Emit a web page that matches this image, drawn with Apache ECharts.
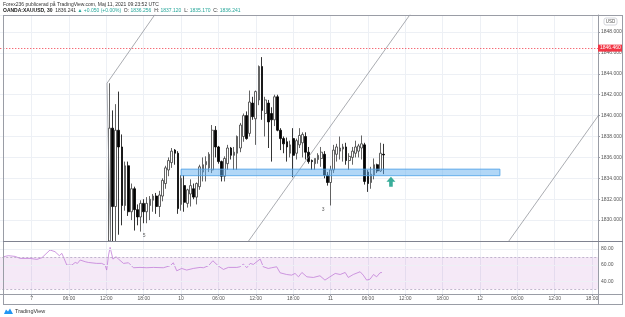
<!DOCTYPE html>
<html><head><meta charset="utf-8">
<script src="https://cdn.jsdelivr.net/npm/echarts@6/dist/echarts.min.js"></script>
<style>html,body{margin:0;padding:0;background:#fff}#c{width:625px;height:317px}</style>
</head><body><div id="c"></div>
<script>
// ---- data (bar index: 0 = May 10 00:00, 30-minute bars) ----
const barIndex = [-23,-22,-21,-20,-19,-18,-17,-16,-15,-14,-13,-12,-11,-10,-9,-8,-7,-6,-5,-4,-3,-2,-1,
  0,1,2,3,4,5,6,7,8,9,10,11,12,13,14,15,16,17,18,19,20,21,22,23,24,25,26,27,28,29,30,31,32,33,34,35,36,37,38,39,40,
  41,42,43,44,45,46,47,48,49,50,51,52,53,54,55,56,57,58,59,60,61,62,63,64,65];
const openP = [1819.5,1838.8,1831.3,1838.6,1837.0,1831.4,1835.2,1830.8,1833.0,1831.0,1830.3,1831.6,1830.8,1831.4,1831.9,1832.3,1831.3,1832.3,1833.5,1834.8,1835.5,1836.7,1836.4,
  1831.5,1833.3,1831.6,1832.5,1833.0,1832.2,1833.2,1834.6,1835.3,1835.0,1834.8,1838.6,1837.0,1835.6,1834.2,1835.4,1836.9,1836.2,1836.4,1836.9,1838.0,1840.0,1838.3,1841.2,1839.7,1841.5,1844.7,1840.2,1841.2,1840.2,1839.6,1841.8,1838.6,1837.8,1837.5,1836.4,1837.8,1836.4,1837.2,1837.4,1838.0,
  1836.5,1835.7,1835.4,1835.8,1835.9,1836.3,1834.3,1833.6,1834.8,1836.3,1836.6,1836.8,1837.0,1835.7,1836.0,1836.4,1836.6,1836.9,1837.2,1834.6,1833.6,1834.3,1835.3,1834.7,1836.3];
const highP = [1843.1,1840.5,1841.1,1842.3,1838.2,1835.6,1835.6,1833.5,1833.2,1831.5,1831.9,1832.0,1832.2,1832.3,1832.5,1832.6,1832.8,1834.0,1835.2,1836.0,1836.9,1836.8,1836.6,
  1834.3,1834.3,1833.0,1833.9,1833.5,1833.6,1835.3,1836.0,1836.1,1836.5,1839.1,1839.0,1837.1,1835.7,1836.1,1837.2,1837.0,1837.0,1838.1,1839.3,1840.2,1840.4,1842.4,1841.8,1842.4,1844.8,1845.6,1841.8,1841.5,1840.8,1842.0,1842.0,1838.8,1838.0,1837.9,1837.6,1838.8,1837.8,1838.8,1838.4,1838.4,
  1837.0,1835.8,1835.9,1836.4,1837.0,1836.6,1834.6,1835.2,1837.2,1837.3,1838.0,1837.3,1837.4,1836.4,1837.0,1837.6,1837.3,1838.1,1837.4,1834.8,1835.1,1835.9,1835.4,1837.4,1837.3];
const lowP = [1818.5,1826.0,1827.0,1828.6,1829.5,1830.9,1830.4,1830.0,1829.0,1829.5,1828.9,1829.7,1829.7,1830.0,1830.8,1830.6,1830.3,1831.8,1833.0,1834.2,1835.0,1835.3,1830.6,
  1830.9,1830.8,1831.2,1831.3,1832.0,1831.5,1832.9,1833.7,1833.7,1834.6,1834.5,1836.0,1835.4,1833.7,1833.7,1834.8,1835.8,1834.8,1834.8,1836.5,1837.5,1837.7,1838.0,1839.6,1837.2,1841.0,1839.6,1838.0,1836.9,1835.6,1839.0,1838.5,1836.7,1836.4,1835.6,1836.0,1834.1,1835.8,1836.9,1836.0,1835.8,
  1835.4,1834.8,1834.8,1835.4,1835.1,1834.0,1833.3,1831.4,1834.5,1835.6,1835.8,1835.6,1835.3,1834.8,1835.3,1836.0,1836.0,1835.8,1833.4,1832.7,1833.0,1833.9,1834.5,1834.6,1834.4];
const closeP = [1838.8,1831.3,1838.6,1837.0,1831.4,1835.2,1830.8,1833.0,1831.0,1830.3,1831.6,1830.8,1831.6,1832.0,1832.3,1831.3,1832.4,1833.8,1835.0,1835.7,1836.6,1836.4,1831.1,
  1834.0,1831.7,1832.9,1833.3,1832.2,1833.5,1835.1,1835.3,1835.6,1836.3,1838.6,1837.0,1835.6,1834.2,1835.9,1836.9,1836.2,1836.5,1838.0,1839.1,1840.0,1837.8,1841.3,1839.9,1842.3,1844.7,1840.5,1841.5,1839.4,1839.6,1841.8,1838.6,1837.8,1837.3,1837.0,1837.2,1836.2,1837.6,1838.1,1838.2,1836.5,
  1835.6,1835.6,1835.9,1836.2,1836.5,1834.3,1833.6,1834.8,1836.7,1837.0,1836.9,1837.0,1835.7,1836.1,1836.6,1837.0,1837.1,1837.3,1833.7,1833.5,1834.4,1835.3,1834.7,1836.4,1836.241];

const rsiIndex = [-57.1,-55.5,-53.3,-51.7,-48.5,-46.3,-44.7,-42.1,-40.5,-39.1,-38.3,-37.6,-36.7,-35.1,-34.0,-33.3,-32.4,-30.8,-29.8,-27.1,-25.5,-24.4,-23.9,-23.3,-22.8,-21.9,-20.9,-20.1,-18.5,-16.9,-15.3,-13.2,-11.0,-8.9,-5.7,-3.5,-2.5,-1.4,0.2,1.8,3.9,6.1,7.2,8.8,10.2,12.0,13.6,15.2,17.9,18.9,20.0,21.1,22.2,23.2,24.3,25.4,26.4,28.0,29.1,30.7,31.8,33.9,35.5,36.6,37.7,38.8,40.4,42.5,44.6,46.2,47.8,49.5,51.1,52.7,53.7,55.3,57.5,58.5,59.6,60.7,61.8,62.8,63.9,64.5];
const rsiValue = [70.4,71.7,70.8,68.3,68.3,67.1,69.2,78.8,76.7,71.7,74.6,68.3,60,60,63.3,62.1,66.3,64.2,63.3,62.1,62.1,60,53.8,72.5,82.1,67.5,70.4,67.5,62.1,62.9,56.7,57.1,56.7,57.1,56.7,59.2,62.9,52.9,55.8,53.8,55.8,57.1,56.7,59.2,65.4,58.8,54.6,57.1,57.1,57.9,61.3,56.7,62.1,60.8,64.2,67.5,57.9,55.8,56.7,57.9,50.4,48.3,47.5,49.6,45.4,50.8,45.4,44.6,46.7,41.3,45.4,49.6,48.3,50.8,44.6,48.3,51.7,47.5,41.3,42.5,48.3,45.4,50.4,50.8];
const rsiUpper = 70, rsiLower = 30;
const rsiLabelValues = [40, 60, 80];

const timeTickIndex = [-48,-36,-24,-12,0,12,24,36,48,60,72,84,96,108,120,132];
const timeTickLabels = ['7','06:00','12:00','18:00','10','06:00','12:00','18:00','11','06:00','12:00','18:00','12','06:00','12:00','18:00'];

const resistancePrice = 1846.46;
const lastPrice = 1836.241;
const lastBarCountdown = '06:09';
const supportZone = {x0: 0, x1: 102.4, top: 1834.88, bottom: 1834.25};
const channelLineA = [[-23.8, 1843.1], [-6.7, 1850.4]];
const channelLink = [[-23.8, 1843.1], [-22.6, 1827.1]];
const channelLineB = [[20.0, 1827.3], [76.0, 1850.7]];
const channelLineC = [[100.0, 1825.8], [140.0, 1842.5]];
const waveLabels = [[-11.9, 1828.55, '5'], [45.6, 1831.05, '3']];
const arrowMark = [[67.4, 1833.68]];

const headerLine1 = 'Forex236 publicerad på TradingView.com, Maj 11, 2021 09:23:52 UTC';
const symbolText = 'OANDA:XAUUSD, 30';
const quoteText = ['1836.241', '▲ +0.050 (+0.00%)', '1836.256', '1837.120', '1835.170', '1836.241'];

// ---- chart ----
const FONT = 'Liberation Sans';
const PRICE_MIN = 1828, PRICE_MAX = 1849.63;
const clampP = v => Math.min(PRICE_MAX, Math.max(PRICE_MIN, v));
// values beyond the visible price range are clamped to the pane edge (visual clipping only)
const candleData = barIndex.map((x, i) => [x, clampP(openP[i]), clampP(closeP[i]), clampP(lowP[i]), clampP(highP[i])]);
const rsiData = rsiIndex.map((x, i) => [x, rsiValue[i]]);
const gridColor = '#edf0f5';
const frameColor = '#9a9da6';

function timeLabel(v) {
  const r = Math.round(v);
  if (Math.abs(v - r) > 1e-6) return '';
  const j = timeTickIndex.indexOf(r);
  return j >= 0 ? timeTickLabels[j] : '';
}
function trend(data) {
  return {type: 'line', data: data, xAxisIndex: 0, yAxisIndex: 0, showSymbol: false, silent: true,
    lineStyle: {color: '#85888f', width: 0.7}, z: 4, clip: true, animation: false};
}

const chart = echarts.init(document.getElementById('c'), null, {renderer: 'canvas'});
chart.setOption({
  animation: false,
  backgroundColor: '#ffffff',
  textStyle: {fontFamily: FONT},
  grid: [
    {left: -5.72, top: 15, width: 603.72, height: 226, containLabel: false, outerBoundsMode: 'none'},
    {left: -5.72, top: 241, width: 603.72, height: 53, containLabel: false, outerBoundsMode: 'none'}
  ],
  xAxis: [
    {type: 'value', gridIndex: 0, min: -60, max: 133.9, interval: 12,
      axisLine: {show: false, onZero: false}, axisTick: {show: false}, axisLabel: {show: false},
      splitLine: {show: true, lineStyle: {color: gridColor, width: 1}}},
    {type: 'value', gridIndex: 1, min: -60, max: 133.9, interval: 12,
      axisLine: {show: true, onZero: false, lineStyle: {color: frameColor, width: 1}},
      axisTick: {show: true, length: 2, lineStyle: {color: frameColor}},
      axisLabel: {show: true, fontSize: 5, color: '#555', margin: 2, formatter: timeLabel, fontFamily: FONT},
      splitLine: {show: true, lineStyle: {color: gridColor, width: 1}}}
  ],
  yAxis: [
    {type: 'value', gridIndex: 0, position: 'right', min: PRICE_MIN, max: PRICE_MAX, interval: 2,
      axisLine: {show: true, onZero: false, lineStyle: {color: frameColor, width: 1}},
      axisTick: {show: true, length: 2, lineStyle: {color: frameColor}},
      axisLabel: {fontSize: 5, color: '#555', margin: 3, showMinLabel: false, showMaxLabel: false,
        formatter: v => v.toFixed(3), fontFamily: FONT},
      splitLine: {show: true, lineStyle: {color: gridColor, width: 1}}},
    {type: 'value', gridIndex: 1, position: 'right', min: 24, max: 90, interval: 4,
      axisLine: {show: true, onZero: false, lineStyle: {color: frameColor, width: 1}},
      axisTick: {show: false},
      axisLabel: {fontSize: 5, color: '#555', margin: 3, showMinLabel: false, showMaxLabel: false, fontFamily: FONT,
        formatter: v => (rsiLabelValues.indexOf(Math.round(v)) >= 0 && Math.abs(v - Math.round(v)) < 1e-6) ? v.toFixed(2) : ''},
      splitLine: {show: false}}
  ],
  series: [
    {type: 'candlestick', xAxisIndex: 0, yAxisIndex: 0, data: candleData, barWidth: 2.2, z: 3,
      itemStyle: {color: '#ffffff', color0: '#000000', borderColor: '#3c3c3c', borderColor0: '#000000', borderWidth: 0.8},
      markArea: {silent: true, z: 5,
        itemStyle: {color: 'rgba(100,176,240,0.5)', borderColor: '#4aa0e6', borderWidth: 0.8},
        data: [[{xAxis: supportZone.x0, yAxis: supportZone.top}, {xAxis: supportZone.x1, yAxis: supportZone.bottom}]]},
      markLine: {silent: true, symbol: 'none', animation: false,
        data: [
          {yAxis: resistancePrice, lineStyle: {color: '#f23645', type: [1, 2], width: 1},
            label: {show: true, position: 'end', distance: 0, formatter: resistancePrice.toFixed(3), color: '#fff',
              backgroundColor: '#f23645', fontSize: 5, padding: [1, 2, 1, 2], fontFamily: FONT}},
          {yAxis: lastPrice, lineStyle: {opacity: 0},
            label: {show: true, position: 'end', distance: 3, formatter: lastPrice.toFixed(3) + '\n' + lastBarCountdown,
              color: '#333', fontSize: 5, lineHeight: 6, fontFamily: FONT}}
        ]}},
    trend(channelLineA), trend(channelLink), trend(channelLineB), trend(channelLineC),
    {type: 'scatter', xAxisIndex: 0, yAxisIndex: 0, data: waveLabels, symbolSize: 1, silent: true, z: 6,
      itemStyle: {color: 'rgba(0,0,0,0)'},
      label: {show: true, position: 'inside', formatter: p => p.value[2], fontSize: 5, color: '#333', fontFamily: FONT}},
    {type: 'scatter', xAxisIndex: 0, yAxisIndex: 0, data: arrowMark, silent: true, z: 6,
      symbol: 'path://M5,0 L10,5 L7,5 L7,10 L3,10 L3,5 L0,5 Z', symbolSize: [9, 10],
      itemStyle: {color: '#089981'}},
    {type: 'line', xAxisIndex: 1, yAxisIndex: 1, data: rsiData, showSymbol: false, silent: true, z: 4,
      lineStyle: {color: '#c27fd8', width: 0.8},
      markArea: {silent: true, itemStyle: {color: 'rgba(156,39,176,0.1)'}, data: [[{yAxis: rsiLower}, {yAxis: rsiUpper}]]},
      markLine: {silent: true, symbol: 'none', label: {show: false},
        data: [
          {yAxis: rsiUpper, lineStyle: {color: '#b3a6c2', type: [2, 2], width: 0.8}},
          {yAxis: rsiLower, lineStyle: {color: '#b3a6c2', type: [2, 2], width: 0.8}},
          {yAxis: rsiLabelValues[0], lineStyle: {color: gridColor, type: 'solid', width: 1}},
          {yAxis: rsiLabelValues[1], lineStyle: {color: gridColor, type: 'solid', width: 1}},
          {yAxis: rsiLabelValues[2], lineStyle: {color: gridColor, type: 'solid', width: 1}}
        ]}}
  ],
  graphic: [
    {type: 'line', shape: {x1: 3, y1: 15.5, x2: 623, y2: 15.5}, style: {stroke: frameColor, lineWidth: 1}, silent: true, z: 10},
    {type: 'line', shape: {x1: 3.5, y1: 15, x2: 3.5, y2: 305}, style: {stroke: frameColor, lineWidth: 1}, silent: true, z: 10},
    {type: 'line', shape: {x1: 622.5, y1: 15, x2: 622.5, y2: 305}, style: {stroke: frameColor, lineWidth: 1}, silent: true, z: 10},
    {type: 'line', shape: {x1: 3, y1: 241.5, x2: 623, y2: 241.5}, style: {stroke: '#808390', lineWidth: 1}, silent: true, z: 10},
    {type: 'line', shape: {x1: 598, y1: 294.5, x2: 623, y2: 294.5}, style: {stroke: frameColor, lineWidth: 1}, silent: true, z: 10},
    {type: 'line', shape: {x1: 3, y1: 304.5, x2: 623, y2: 304.5}, style: {stroke: frameColor, lineWidth: 1}, silent: true, z: 10},
    {type: 'line', shape: {x1: 598.5, y1: 294, x2: 598.5, y2: 305}, style: {stroke: frameColor, lineWidth: 1}, silent: true, z: 10},
    {type: 'rect', shape: {x: 604, y: 18, width: 13, height: 7, r: 2}, style: {fill: '#fff', stroke: '#c9ccd3', lineWidth: 0.8}, silent: true, z: 10},
    {type: 'text', x: 610.5, y: 21.7, style: {text: 'USD', fontSize: 4.5, fill: '#555', align: 'center', verticalAlign: 'middle', fontFamily: FONT}, silent: true, z: 11},
    {type: 'text', x: 3, y: 4.5, style: {text: headerLine1, fontSize: 5, fill: '#333', verticalAlign: 'middle', fontFamily: FONT}, silent: true, z: 11},
    {type: 'text', x: 3, y: 10.5, silent: true, z: 11, style: {
      text: '{b|' + symbolText + '}  {n|' + quoteText[0] + '} {g|' + quoteText[1] + '}  {n|O:} {g|' + quoteText[2] + '}  {n|H:} {g|' + quoteText[3] + '}  {n|L:} {g|' + quoteText[4] + '}  {n|C:} {g|' + quoteText[5] + '}',
      verticalAlign: 'middle', fontSize: 5, fontFamily: FONT,
      rich: {b: {fontSize: 5, fill: '#222', fontWeight: 'bold', fontFamily: FONT}, n: {fontSize: 5, fill: '#333', fontFamily: FONT}, g: {fontSize: 5, fill: '#26a69a', fontFamily: FONT}}}},
    {type: 'polygon', silent: true, z: 11, shape: {points: [[4,314],[6,309.5],[8,311.5],[10,308.5],[13,314]]}, style: {fill: '#2196f3'}},
    {type: 'text', x: 15, y: 311.5, style: {text: 'TradingView', fontSize: 5.5, fill: '#333', verticalAlign: 'middle', fontFamily: FONT}, silent: true, z: 11}
  ]
});
</script></body></html>
